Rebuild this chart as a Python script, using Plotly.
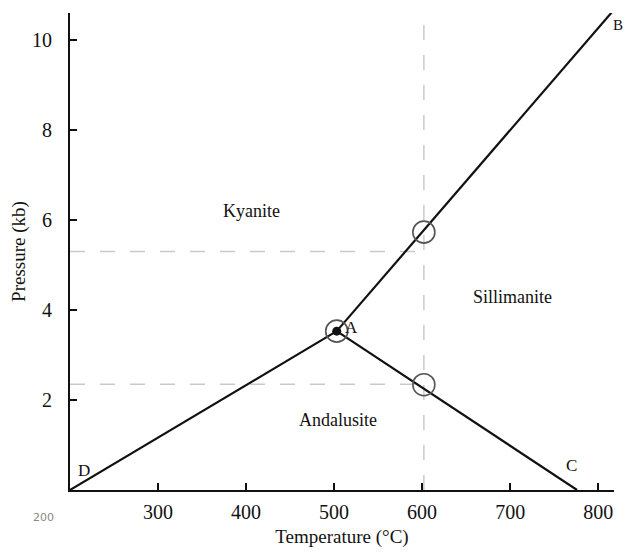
import plotly.graph_objects as go

# Phase boundary end points (Temperature °C, Pressure kb)
point_labels = ["D", "A", "B", "C"]
point_temps = [200, 503, 817, 776]
point_press = [0.0, 3.53, 10.65, 0.0]

# boundaries as pairs of point labels
boundaries = [("D", "A"), ("A", "B"), ("A", "C")]

# hand-drawn circles (pencil)
circle_temps = [503, 602, 602]
circle_press = [3.53, 5.73, 2.34]

# pencil guide lines
guide_vx = 602
guide_vy = [0.0, 10.35]
guide_hy = [5.3, 2.35]
guide_hx = [200, 602]

field_names = ["Kyanite", "Sillimanite", "Andalusite"]
field_temps = [406, 703, 504]
field_press = [6.2, 4.3, 1.55]

x_ticks = [300, 400, 500, 600, 700, 800]
y_ticks = [2, 4, 6, 8, 10]

pt = dict(zip(point_labels, zip(point_temps, point_press)))

fig = go.Figure()

pencil = dict(color="rgba(150,150,150,0.5)", width=1.5, dash="longdash")
fig.add_trace(go.Scatter(x=[guide_vx, guide_vx], y=guide_vy, mode="lines",
                         line=pencil, hoverinfo="skip", showlegend=False))
for hy in guide_hy:
    fig.add_trace(go.Scatter(x=guide_hx, y=[hy, hy], mode="lines",
                             line=pencil, hoverinfo="skip", showlegend=False))

for a, b in boundaries:
    fig.add_trace(go.Scatter(x=[pt[a][0], pt[b][0]], y=[pt[a][1], pt[b][1]],
                             mode="lines", line=dict(color="#111", width=2.2),
                             showlegend=False, cliponaxis=False))

fig.add_trace(go.Scatter(x=circle_temps, y=circle_press, mode="markers",
                         marker=dict(size=22, color="rgba(0,0,0,0)",
                                     line=dict(color="#555", width=1.6)),
                         showlegend=False, cliponaxis=False))
fig.add_trace(go.Scatter(x=[pt["A"][0]], y=[pt["A"][1]], mode="markers",
                         marker=dict(size=9, color="#111"),
                         showlegend=False))

font_serif = "Liberation Serif, Times New Roman, serif"

for name, tx, py in zip(field_names, field_temps, field_press):
    fig.add_annotation(x=tx, y=py, text=name, showarrow=False,
                       font=dict(family=font_serif, size=18, color="#111"))

label_offsets = {"D": (14, 20), "A": (15, 4), "C": (-6, 25)}
for lab in ["D", "A", "C"]:
    dx, dy = label_offsets[lab]
    fig.add_annotation(x=pt[lab][0], y=pt[lab][1], text=lab, showarrow=False,
                       xshift=dx, yshift=dy,
                       font=dict(family=font_serif, size=17, color="#111"))
# B sits above the axis top, so anchor it to the paper edge
fig.add_annotation(x=pt["B"][0], xref="x", y=1, yref="paper", text="B",
                   showarrow=False, xanchor="left", xshift=-2, yshift=-2,
                   font=dict(family=font_serif, size=15, color="#111"))

fig.add_annotation(x=200, y=0, text="200", showarrow=False, xshift=-27, yshift=-27,
                   font=dict(family="DejaVu Sans", size=11, color="#888"))

fig.update_layout(
    width=625, height=546,
    margin=dict(l=59, r=19, t=5, b=64),
    paper_bgcolor="white", plot_bgcolor="white",
    font=dict(family=font_serif, size=20, color="#111"),
    xaxis=dict(range=[200, 818], tickvals=x_ticks, ticktext=[str(v) for v in x_ticks],
               ticks="inside", ticklen=7, tickwidth=1.5, tickcolor="#111",
               ticklabelstandoff=3,
               showline=True, linecolor="#111", linewidth=2, showgrid=False,
               zeroline=False, title=dict(text="Temperature (°C)", standoff=8,
                                          font=dict(size=19))),
    yaxis=dict(range=[0, 10.6], tickvals=y_ticks, ticktext=[str(v) for v in y_ticks],
               ticks="inside", ticklen=7, tickwidth=1.5, tickcolor="#111",
               ticklabelstandoff=12,
               showline=True, linecolor="#111", linewidth=2, showgrid=False,
               zeroline=False, title=dict(text="Pressure (kb)", standoff=6,
                                          font=dict(size=19))),
)

fig.write_html("out.html")
